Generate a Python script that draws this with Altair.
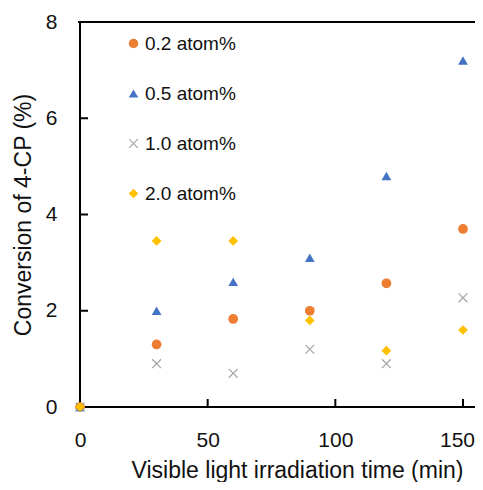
import altair as alt
import pandas as pd

series_names = ["0.2 atom%", "0.5 atom%", "1.0 atom%", "2.0 atom%"]
times = [0, 30, 60, 90, 120, 150]
s02 = [0, 1.30, 1.83, 2.00, 2.57, 3.70]
s05 = [0, 2.00, 2.60, 3.10, 4.80, 7.20]
s10 = [0, 0.90, 0.70, 1.20, 0.90, 2.27]
s20 = [0, 3.45, 3.45, 1.80, 1.17, 1.60]
colors = ["#ED7D31", "#4472C4", "#A5A5A5", "#FFC000"]
x_path = "M-1,-0.82L-0.82,-1L1,0.82L0.82,1Z M0.82,-1L1,-0.82L-0.82,1L-1,0.82Z"
shapes = ["circle", "triangle-up", x_path, "diamond"]
y_ticks = [0, 2, 4, 6, 8]
x_ticks = [0, 50, 100, 150]

rows = []
for name, vals in zip(series_names, [s02, s05, s10, s20]):
    for t, v in zip(times, vals):
        rows.append({"time": t, "conv": v, "series": name})
df = pd.DataFrame(rows)

FONT = "Liberation Sans"
TXT = "#111111"
LINE = "#000000"
W, H = 395, 385
XMAX = 154.7

xscale = alt.Scale(domain=[0, XMAX], nice=False)
yscale = alt.Scale(domain=[0, 8], nice=False)

points = alt.Chart(df).mark_point(filled=True, size=95, opacity=1).encode(
    x=alt.X("time:Q", scale=xscale,
            axis=alt.Axis(title="Visible light irradiation time (min)", values=x_ticks,
                          ticks=False, grid=False, domain=False,
                          labelFlush=False,
                          labelOffset={"condition": {"test": "datum.value == 150", "value": -6}, "value": 0},
                          labelFontSize=21, labelFont=FONT, labelColor=TXT, labelPadding=22,
                          titleFontSize=23, titleFont=FONT, titleFontWeight="normal",
                          titleColor=TXT, titlePadding=9, titleX=217)),
    y=alt.Y("conv:Q", scale=yscale,
            axis=alt.Axis(title="Conversion of 4-CP (%)", values=y_ticks,
                          ticks=False, grid=False, domain=False,
                          labelFontSize=21, labelFont=FONT, labelColor=TXT, labelPadding=23,
                          titleFontSize=23, titleFont=FONT, titleFontWeight="normal",
                          titleColor=TXT, titlePadding=10)),
    color=alt.Color("series:N", scale=alt.Scale(domain=series_names, range=colors),
                    legend=alt.Legend(title=None, orient="none", legendX=44, legendY=12,
                                      labelFontSize=19, labelFont=FONT, labelColor=TXT,
                                      symbolSize=90, rowPadding=30, labelOffset=2, padding=0)),
    shape=alt.Shape("series:N", scale=alt.Scale(domain=series_names, range=shapes)),
)

# Frame lines and inward ticks drawn as thin filled symbols
one = pd.DataFrame({"a": [0]})
hbar_long = "M-1,-0.0051H1V0.0051H-1Z"   # horizontal bar, ~2px thick at 397px length
vbar_long = "M-0.0052,-1H0.0052V1H-0.0052Z"  # vertical bar, ~2px thick at 387px length
hbar_short = "M-1,-0.25H1V0.25H-1Z"      # 8px x 2px
vbar_short = "M-0.25,-1H0.25V1H-0.25Z"   # 2px x 8px

left_axis = alt.Chart(one).mark_point(filled=True, opacity=1, color=LINE).encode(
    x=alt.value(0), y=alt.value(H / 2), shape=alt.value(vbar_long), size=alt.value(387 ** 2))
bottom_axis = alt.Chart(one).mark_point(filled=True, opacity=1, color=LINE).encode(
    x=alt.value(W / 2 - 1), y=alt.value(H), shape=alt.value(hbar_long), size=alt.value(397 ** 2))
top_axis = alt.Chart(one).mark_point(filled=True, opacity=1, color=LINE).encode(
    x=alt.value(W / 2 - 1), y=alt.value(0), shape=alt.value(hbar_long), size=alt.value(397 ** 2))

ytick_df = pd.DataFrame({"v": y_ticks[1:4]})
xtick_df = pd.DataFrame({"v": x_ticks[1:]})

yticks = alt.Chart(ytick_df).mark_point(filled=True, opacity=1, color=LINE).encode(
    y=alt.Y("v:Q", scale=yscale), x=alt.value(4),
    shape=alt.value(hbar_short), size=alt.value(64))
xticks = alt.Chart(xtick_df).mark_point(filled=True, opacity=1, color=LINE).encode(
    x=alt.X("v:Q", scale=xscale), y=alt.value(H - 4),
    shape=alt.value(vbar_short), size=alt.value(64))

chart = alt.layer(left_axis, bottom_axis, top_axis, yticks, xticks, points).properties(
    width=W, height=H,
    background="white",
    autosize=alt.AutoSizeParams(type="none"),
    padding={"left": 72, "top": 14, "right": 0, "bottom": 75},
).configure_view(strokeWidth=0)

chart.save("out.html", embed_options={"renderer": "svg", "actions": False})
